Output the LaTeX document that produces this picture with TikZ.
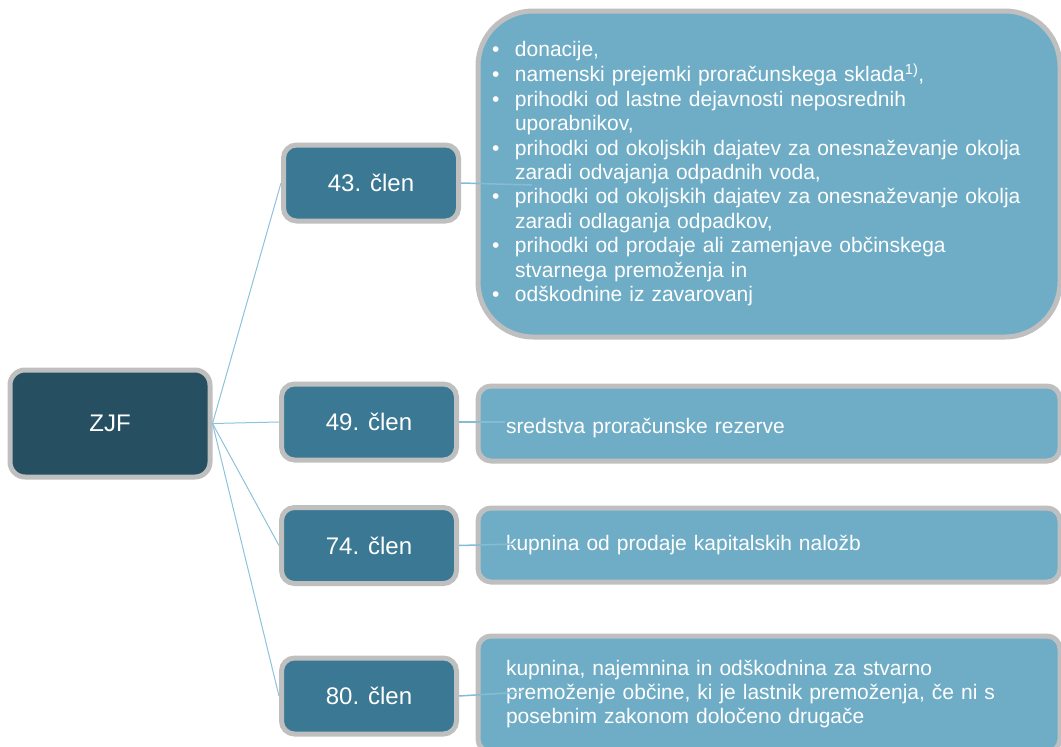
\documentclass[tikz,border=0pt]{standalone}
\usepackage{fontspec}
\setmainfont{Liberation Sans}
\definecolor{zjfcol}{HTML}{264F62}
\definecolor{clencol}{HTML}{3A7893}
\definecolor{txtcol}{HTML}{6FADC6}
\definecolor{bordcol}{HTML}{BFBFBF}
\definecolor{linecol}{HTML}{8CC3DB}
\definecolor{rlinecol}{HTML}{86BCD3}
\begin{document}
\begin{tikzpicture}[x=1pt,y=-1pt,
  box/.style={draw=bordcol, line width=5pt, rounded corners=13pt, text=white,
    font=\fontsize{24}{28}\selectfont, inner sep=0pt},
  root/.style={box, fill=zjfcol, minimum width=200pt, minimum height=107pt, rounded corners=15pt},
  clen/.style={box, fill=clencol, minimum width=175pt, minimum height=76pt},
  leaf/.style={box, fill=txtcol, font=\fontsize{21}{24.4}\selectfont,
    inner xsep=28pt, text width=526pt, align=left},
  conn/.style={draw=linecol, line width=1pt},
  rconn/.style={draw=rlinecol, line width=1.5pt}]
\useasboundingbox (0,0) rectangle (1061,747);

\node[root] (zjf) at (110,423.5) {ZJF};
\node[clen] (c43) at (371,183) {43. člen};
\node[clen] (c49) at (369,422) {49. člen};
\node[clen] (c74) at (369,545.5) {74. člen};
\node[clen] (c80) at (369,696) {80. člen};

\node[leaf, rounded corners=55pt, minimum height=326pt, inner xsep=14pt, text width=554pt] (t43) at (769,174)
{\begin{tabular}{@{}p{23pt}@{}l@{}}
• & donacije,\\
• & namenski prejemki proračunskega sklada\textsuperscript{1)},\\
• & prihodki od lastne dejavnosti neposrednih\\
  & uporabnikov,\\
• & prihodki od okoljskih dajatev za onesnaževanje okolja\\
  & zaradi odvajanja odpadnih voda,\\
• & prihodki od okoljskih dajatev za onesnaževanje okolja\\
  & zaradi odlaganja odpadkov,\\
• & prihodki od prodaje ali zamenjave občinskega\\
  & stvarnega premoženja in\\
• & odškodnine iz zavarovanj
\end{tabular}};
\node[leaf, minimum height=75pt] (t49) at (769,423.5) {\raisebox{-5pt}[\height][\depth]{sredstva proračunske rezerve}};
\node[leaf, minimum height=74pt] (t74) at (769,545) {kupnina od prodaje kapitalskih naložb};
\node[leaf, minimum height=116pt] (t80) at (769,694) {kupnina, najemnina in odškodnina za stvarno\\ premoženje občine, ki je lastnik premoženja, če ni s\\ posebnim zakonom določeno drugače};

\coordinate (e43) at (532,185);
\coordinate (e49) at (505,422);
\coordinate (e74) at (515,544);
\coordinate (e80) at (523,692);

\draw[conn] (zjf.east) -- (c43.west);
\draw[conn] (zjf.east) -- (c49.west);
\draw[conn] (zjf.east) -- (c74.west);
\draw[conn] (zjf.east) -- (c80.west);
\draw[rconn] (c43.east) -- (e43);
\draw[rconn] (c49.east) -- (e49);
\draw[rconn] (c74.east) -- (e74);
\draw[rconn] (c80.east) -- (e80);
\end{tikzpicture}
\end{document}
